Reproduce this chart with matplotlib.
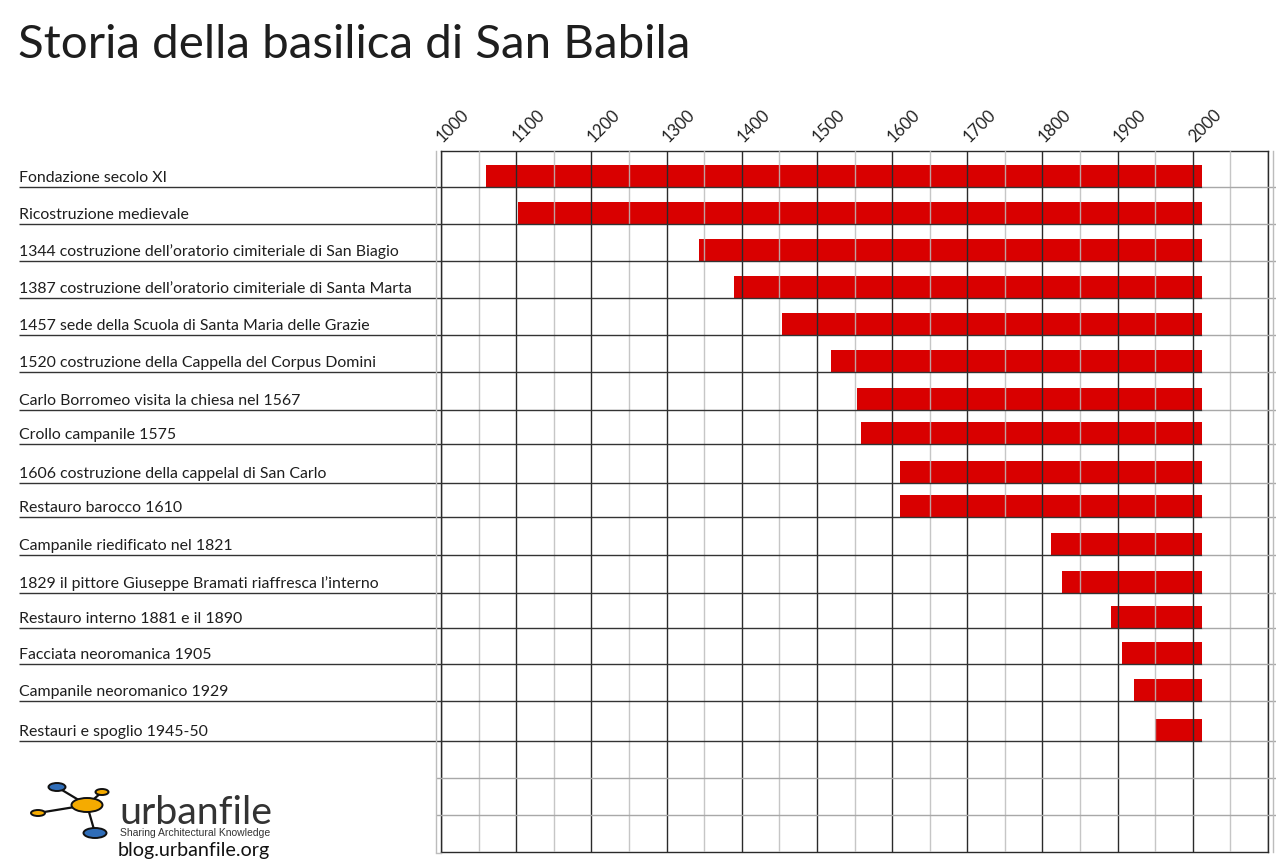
import matplotlib
matplotlib.use('Agg')
from matplotlib import pyplot as plt
from matplotlib.patches import Ellipse
from matplotlib.transforms import Affine2D

title = 'Storia della basilica di San Babila'
events = [
    'Fondazione secolo XI',
    'Ricostruzione medievale',
    '1344 costruzione dell’oratorio cimiteriale di San Biagio',
    '1387 costruzione dell’oratorio cimiteriale di Santa Marta',
    '1457 sede della Scuola di Santa Maria delle Grazie',
    '1520 costruzione della Cappella del Corpus Domini',
    'Carlo Borromeo visita la chiesa nel 1567',
    'Crollo campanile 1575',
    '1606 costruzione della cappelal di San Carlo',
    'Restauro barocco 1610',
    'Campanile riedificato nel 1821',
    '1829 il pittore Giuseppe Bramati riaffresca l’interno',
    'Restauro interno 1881 e il 1890',
    'Facciata neoromanica 1905',
    'Campanile neoromanico 1929',
    'Restauri e spoglio 1945-50',
]
starts = [1060, 1103, 1343, 1390, 1453, 1519, 1553, 1559, 1610, 1610,
          1811, 1826, 1891, 1906, 1922, 1950]
end_year = 2012
years = list(range(1000, 2101, 100))
year_labels = [str(y) for y in years[:-1]] + ['']
half_years = list(range(1050, 2100, 100))

# layout in pixels of the 1276x865 picture
W, H = 1276, 865
row_lines = [187, 224, 261, 298, 335, 372, 410, 444, 483, 517, 555, 593,
             628, 664, 701, 741]
extra_lines = [778, 815]
bar_h = 22
X0, X1 = 441, 1268
Y0, Y1 = 151, 852
DARK = '#2a2a2a'
GREY = '#bcbcbc'
RED = '#d90000'
FONT = 'Lato'

plt.rcParams['font.family'] = [FONT, 'DejaVu Sans']
fig = plt.figure(figsize=(W / 100, H / 100), dpi=100)

# page layer in pixel coords: title, row labels, rules, logo
page = fig.add_axes([0, 0, 1, 1], zorder=3)
page.set_xlim(0, W)
page.set_ylim(H, 0)
page.axis('off')
page.patch.set_alpha(0)

ax = fig.add_axes([X0 / W, 1 - Y1 / H, (X1 - X0) / W, (Y1 - Y0) / H], zorder=1)
ax.set_xlim(1000, 2100)
ax.set_ylim(Y1, Y0)  # rows are irregular, so y runs in picture pixels
ax.patch.set_alpha(0)

ax.set_xticks(years)
ax.set_xticks(half_years, minor=True)
ax.set_yticks([])
ax.set_axisbelow(False)  # grid shows over the bars
ax.grid(True, which='major', axis='x', color=DARK, lw=1.0)
ax.grid(True, which='minor', axis='x', color=GREY, lw=1.0, alpha=0.85)
ax.xaxis.tick_top()
ax.tick_params(which='both', length=0)
ax.set_xticklabels(year_labels, fontsize=12, color='#222222')
ax.tick_params(axis='x', which='major', pad=13)
shift = Affine2D().translate(12, 7)
for lab in ax.get_xticklabels():
    lab.set(rotation=45, ha='center', va='center', rotation_mode='anchor')
    lab.set_transform(lab.get_transform() + shift)
for s in ax.spines.values():
    s.set_color(DARK)
    s.set_linewidth(1.0)

for i, (name, start) in enumerate(zip(events, starts)):
    y = row_lines[i]
    ax.barh(y - bar_h, end_year - start, left=start, height=bar_h, align='edge',
            color=RED, zorder=1)
    page.text(19, y - 5, name, fontsize=11.45, color='#1e1e1e', va='baseline')
    page.plot([19, 1202], [y, y], color='#333333', lw=1.0, solid_capstyle='butt')
    page.plot([1202, 1276], [y, y], color='#a8a8a8', lw=1.0, solid_capstyle='butt')

for y in extra_lines:
    page.plot([436, 1276], [y, y], color='#a8a8a8', lw=1.0, solid_capstyle='butt')

# outer grey frame behind the dark one
page.plot([436, 436], [Y0, Y1], color=GREY, lw=1.0)
page.plot([1273, 1273], [Y0, Y1], color=GREY, lw=1.0)
page.plot([436, X0], [Y1 + 1, Y1 + 1], color=GREY, lw=1.0)

page.text(18, 58, title, fontsize=34.2, color='#1e1e1e', va='baseline')

# logo
links = [((87, 805), (57, 787)), ((87, 805), (102, 792)),
         ((87, 805), (38, 813)), ((87, 805), (95, 833))]
for a, b in links:
    page.plot([a[0], b[0]], [a[1], b[1]], color='#111111', lw=1.6, zorder=4)
nodes = [(87, 805, 31, 14, '#f5ab00'), (57, 787, 17, 8, '#2f6db8'),
         (102, 792, 13, 6, '#f5ab00'), (38, 813, 14, 6, '#f5ab00'),
         (95, 833, 23, 10, '#2f6db8')]
for x, y, w, h, c in nodes:
    page.add_patch(Ellipse((x, y), w, h, fc=c, ec='#111111', lw=1.4, zorder=5))
page.text(119, 824, 'urbanfile', fontsize=28.4, color='#333333', va='baseline')
page.text(120, 836, 'Sharing Architectural Knowledge', fontsize=7.45, color='#333333',
          family=['Liberation Sans', 'DejaVu Sans'], va='baseline')
page.text(118, 856, 'blog.urbanfile.org', fontsize=14.2, color='#111111', va='baseline')

fig.savefig('out.png', dpi=100)
